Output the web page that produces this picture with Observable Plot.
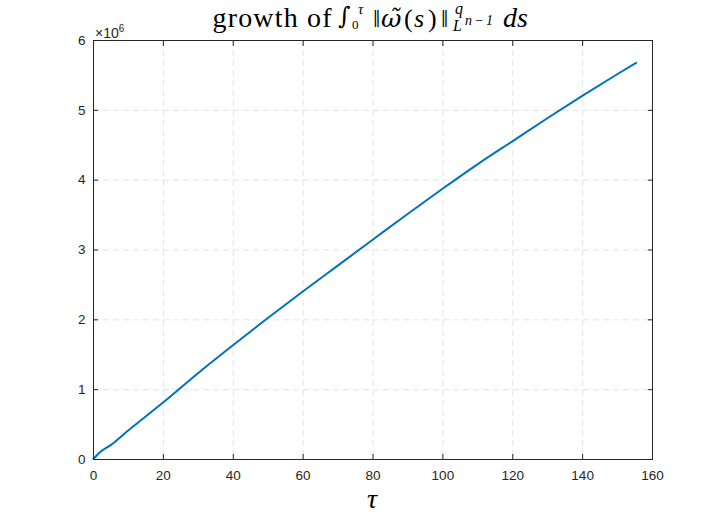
<!DOCTYPE html>
<html>
<head>
<meta charset="utf-8">
<script src="https://cdn.jsdelivr.net/npm/d3@7"></script>
<script src="https://cdn.jsdelivr.net/npm/@observablehq/plot@0.6"></script>
<style>
  html, body { margin: 0; padding: 0; background: #fff; }
  #chart { width: 720px; height: 520px; }
</style>
</head>
<body>
<div id="chart"></div>
<script>
// Data (values in units of 10^6)
const tau    = [0, 2, 5, 10, 14.3, 20, 30, 40, 50, 60, 70, 80, 90, 100, 110, 120, 130, 140, 150, 155.3];
const growth = [0.01, 0.11, 0.21, 0.42, 0.59, 0.82, 1.24, 1.64, 2.03, 2.41, 2.78, 3.15, 3.52, 3.88, 4.23, 4.56, 4.89, 5.21, 5.52, 5.68];
const xTicks = [0, 20, 40, 60, 80, 100, 120, 140, 160];
const yTicks = [0, 1, 2, 3, 4, 5, 6];
const xLabel = "τ";
const exponentBase = "×10";
const exponentPower = "6";

const data = tau.map((t, i) => ({tau: t, value: growth[i]}));

const axisColor = "#262626";
const gridStyle = {stroke: axisColor, strokeOpacity: 0.13, strokeDasharray: "6,4"};
const tickFont = {fontFamily: "Liberation Sans, Arial, sans-serif", fontSize: 13.5, fill: axisColor};

const chart = Plot.plot({
  width: 720,
  height: 520,
  marginLeft: 93,
  marginRight: 68,
  marginTop: 40,
  marginBottom: 61,
  style: {background: "#fff", fontFamily: "Liberation Sans, Arial, sans-serif", fontSize: "13px", color: axisColor},
  x: {domain: [0, 160], ticks: xTicks, label: null},
  y: {domain: [0, 6], ticks: yTicks, label: null},
  marks: [
    Plot.gridX(xTicks, gridStyle),
    Plot.gridY(yTicks, gridStyle),
    Plot.line(data, {x: "tau", y: "value", stroke: "#0072BD", strokeWidth: 2, curve: "monotone-x"}),
    Plot.frame({stroke: axisColor, strokeWidth: 1}),
    // inward ticks on all sides
    Plot.axisX(xTicks, {anchor: "bottom", tickSize: -5, tickFormat: () => "", stroke: axisColor}),
    Plot.axisX(xTicks, {anchor: "top", tickSize: -5, tickFormat: () => "", stroke: axisColor}),
    Plot.axisY(yTicks, {anchor: "left", tickSize: -5, tickFormat: () => "", stroke: axisColor}),
    Plot.axisY(yTicks, {anchor: "right", tickSize: -5, tickFormat: () => "", stroke: axisColor}),
    // labels
    Plot.axisX(xTicks, {anchor: "bottom", tickSize: 0, tickPadding: 11, tickFormat: d => String(d), ...tickFont, label: null}),
    Plot.axisY(yTicks, {anchor: "left", tickSize: 0, tickPadding: 8, tickFormat: d => String(d), ...tickFont, label: null})
  ]
});

document.getElementById("chart").appendChild(chart);

const svg = d3.select(chart);
const serif = "Liberation Serif, DejaVu Serif, serif";

// exponent label
const ex = svg.append("text")
  .attr("x", 95).attr("y", 38)
  .attr("text-anchor", "start")
  .attr("font-family", "Liberation Sans, Arial, sans-serif")
  .attr("font-size", 14).attr("fill", axisColor);
ex.append("tspan").text(exponentBase);
ex.append("tspan").attr("font-size", 10).attr("dy", -6).text(exponentPower);

// x label
svg.append("text")
  .attr("x", 372).attr("y", 508)
  .attr("text-anchor", "middle")
  .attr("font-family", serif)
  .attr("font-style", "italic")
  .attr("font-size", 28).attr("fill", "#000")
  .text(xLabel);

// title: growth of ∫_0^τ ‖ω̃(s)‖^q_{L^{n−1}} ds  (one text element, positioned tspans)
const title = svg.append("text")
  .attr("font-family", serif)
  .attr("fill", "#000")
  .attr("text-anchor", "start");
function piece(x, y, size, str, italic, len, family) {
  const t = title.append("tspan")
    .attr("x", x).attr("y", y)
    .attr("font-size", size)
    .text(str);
  if (italic) t.attr("font-style", "italic");
  if (len) t.attr("textLength", len).attr("lengthAdjust", "spacing");
  if (family) t.attr("font-family", family);
  return t;
}
piece(212.5, 27, 28, "growth of", false, 119);
piece(338, 24, 24, "∫", false, null, "DejaVu Serif, serif");
piece(352, 29, 13, "0");
piece(358, 14, 15, "τ", true);
piece(373, 27, 26, "‖");
piece(381, 27, 25, "ω\u0303", true, null, "DejaVu Serif, serif");
piece(404, 27, 26, "(");
piece(414, 27, 26, "s", true);
piece(428, 27, 26, ")");
piece(441, 27, 26, "‖");
piece(455, 14, 16, "q", true);
piece(453, 31, 16, "L", true);
piece(465, 25, 14, "n−1", true, 28);
piece(503, 27, 28, "ds", true);
</script>
</body>
</html>
